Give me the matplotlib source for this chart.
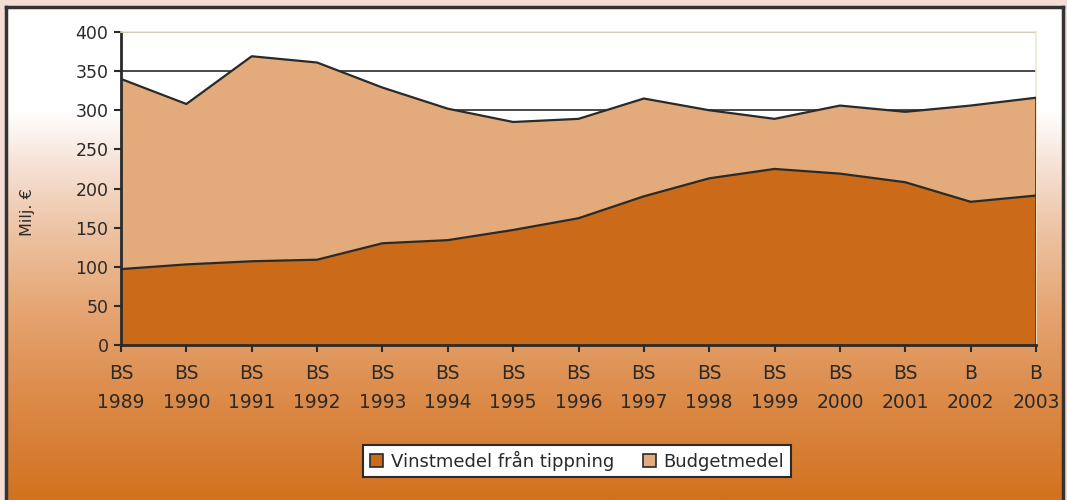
import numpy as np
import matplotlib.pyplot as plt
from matplotlib.colors import LinearSegmentedColormap
from matplotlib.patches import Rectangle

plt.rcParams['font.family'] = ['DejaVu Sans']

# data (Milj. EUR)
years = [1989, 1990, 1991, 1992, 1993, 1994, 1995, 1996, 1997, 1998, 1999, 2000, 2001, 2002, 2003]
prefixes = ['BS'] * 13 + ['B', 'B']
vinst = [97, 103, 107, 109, 130, 134, 147, 162, 190, 213, 225, 219, 208, 183, 191]
total = [340, 308, 369, 361, 329, 302, 285, 289, 315, 300, 289, 306, 298, 306, 316]
budget = [t - v for t, v in zip(total, vinst)]

c_vinst = '#cb6b1a'
c_budget = '#e3ab7b'
dark = '#2a2a2a'

fig = plt.figure(figsize=(10.67, 5.0), dpi=100)
fig.patch.set_facecolor('#f3ddd4')

# framed box with white -> orange gradient
bg = fig.add_axes([6 / 1067, 0, 1057 / 1067, 493 / 500], zorder=-5)
grad = LinearSegmentedColormap.from_list('g', [
    (0.0, '#ffffff'), (0.21, '#ffffff'), (0.32, '#f6e2d6'), (0.44, '#eec6a8'),
    (0.62, '#e5a471'), (0.80, '#dc8a48'), (1.0, '#d2721f')])
bg.imshow(np.linspace(0, 1, 256).reshape(-1, 1), cmap=grad, aspect='auto',
          extent=[0, 1, 0, 1], origin='upper')
bg.set_xlim(0, 1)
bg.set_ylim(0, 1)
bg.set_xticks([])
bg.set_yticks([])
for s in ['left', 'top', 'right']:
    bg.spines[s].set_linewidth(2.5)
    bg.spines[s].set_color('#333333')
bg.spines['bottom'].set_visible(False)

ax = fig.add_axes([121 / 1067, 155 / 500, 915 / 1067, 313 / 500])
ax.set_facecolor('white')
x = np.arange(len(years))
ax.stackplot(x, vinst, budget, colors=[c_vinst, c_budget], zorder=2)
ax.plot(x, vinst, color=dark, lw=1.6, zorder=3)
ax.plot(x, total, color=dark, lw=1.6, zorder=3)
ax.plot([x[-1], x[-1]], [0, total[-1]], color=dark, lw=1.2, zorder=3)

ax.set_xlim(0, len(years) - 1)
ax.set_ylim(0, 400)
ax.set_yticks(range(0, 401, 50))
ax.yaxis.grid(True, color=dark, lw=1.2, zorder=1)
ax.set_axisbelow(True)
ax.set_xticks(x)
ax.set_xticklabels([f'{p}\n{y}' for p, y in zip(prefixes, years)], linespacing=1.65)
ax.tick_params(axis='x', labelsize=13.5, length=5, width=1.5, color=dark, pad=9, labelcolor=dark)
ax.tick_params(axis='y', labelsize=12.5, length=5, width=1.5, color=dark, pad=4, labelcolor=dark)
for s in ['top', 'right']:
    ax.spines[s].set_color('#efe6cc')
    ax.spines[s].set_linewidth(1.2)
for s in ['left', 'bottom']:
    ax.spines[s].set_color(dark)
    ax.spines[s].set_linewidth(2)
ax.set_ylabel('Milj. €', fontsize=11.5, color=dark)
ax.yaxis.set_label_coords(-0.094, 0.425)

handles = [Rectangle((0, 0), 1, 1, facecolor=c_vinst, edgecolor=dark, lw=1.2),
           Rectangle((0, 0), 1, 1, facecolor=c_budget, edgecolor=dark, lw=1.2)]
leg = fig.legend(handles, ['Vinstmedel från tippning', 'Budgetmedel'], ncol=2,
                 loc='center', bbox_to_anchor=(577 / 1067, 39 / 500), fontsize=13,
                 frameon=True, fancybox=False, edgecolor=dark, framealpha=1,
                 handlelength=0.75, handleheight=0.75, handletextpad=0.4,
                 columnspacing=1.6, borderpad=0.35)
leg.get_frame().set_linewidth(1.5)
for t in leg.get_texts():
    t.set_color(dark)

fig.savefig('out.png', dpi=100, facecolor=fig.get_facecolor())
